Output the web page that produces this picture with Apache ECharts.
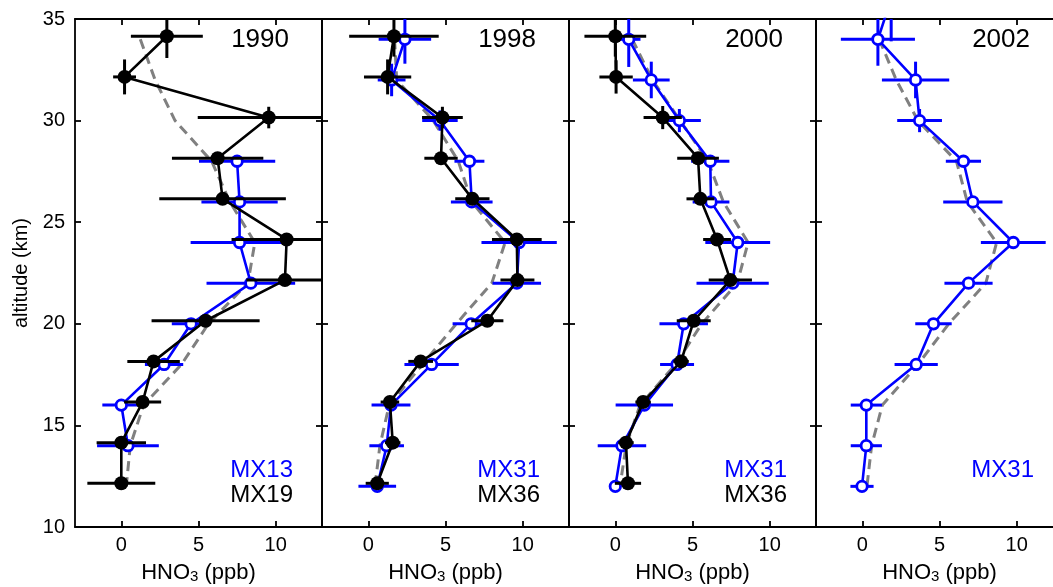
<!DOCTYPE html>
<html>
<head>
<meta charset="utf-8">
<script src="https://cdn.jsdelivr.net/npm/echarts@6/dist/echarts.min.js"></script>
<style>
  html, body { margin: 0; padding: 0; background: #fff; }
  #chart { width: 1053px; height: 587px; }
</style>
</head>
<body>
<div id="chart"></div>
<script>
// ---- axis ticks ----
const xTicks = [0, 5, 10];
const yTicks = [10, 15, 20, 25, 30, 35];

// ---- profile altitudes (km) ----
const altLevels = [34, 32, 30, 28, 26, 24, 22, 20, 18, 16, 14, 12];
const altShifted = [34.15, 32.15, 30.15, 28.15, 26.15, 24.15, 22.15, 20.15, 18.15, 16.15, 14.15, 12.15];
const alt1990MX13 = [28, 26, 24, 22, 20, 18, 16, 14];
const alt2002MX31 = [36, 34, 32, 30, 28, 26, 24, 22, 20, 18, 16, 14, 12];

// ---- 1990 ----
const hno3_1990_MX19 = [2.95, 0.21, 9.55, 6.24, 6.56, 10.71, 10.6, 5.46, 2.09, 1.38, 0.0, 0.0];
const xerr_1990_MX19 = [2.33, 0.74, 4.6, 2.96, 4.1, 3.57, 2.5, 3.5, 1.7, 1.2, 1.6, 2.2];
const zerr_1990_MX19 = [1.07, 0.86, 0.53, 0, 0, 0, 0, 0, 0, 0, 0, 0];
const hno3_1990_MX13 = [7.5, 7.66, 7.66, 8.39, 4.52, 2.77, 0.0, 0.43];
const xerr_1990_MX13 = [2.47, 2.47, 3.17, 2.87, 1.25, 1.24, 1.23, 2.0];
const zerr_1990_MX13 = [0, 0, 0, 0, 0, 0, 0, 0];
const clim_1990 = [1.23, 2.19, 3.48, 5.85, 7.03, 8.65, 8.2, 5.64, 3.9, 1.44, 0.58, 0.32];

// ---- 1998 ----
const hno3_1998_MX36 = [1.66, 1.25, 4.8, 4.71, 6.74, 9.62, 9.66, 7.71, 3.39, 1.4, 1.58, 0.58];
const xerr_1998_MX36 = [2.9, 1.53, 1.32, 1.08, 1.11, 1.61, 1.1, 1.04, 0.8, 0.6, 0.5, 0.75];
const zerr_1998_MX36 = [1.0, 0.86, 0.53, 0, 0, 0, 0, 0, 0, 0, 0, 0];
const hno3_1998_MX31 = [2.37, 1.51, 4.64, 6.55, 6.7, 9.77, 9.62, 6.66, 4.1, 1.47, 1.19, 0.58];
const xerr_1998_MX31 = [1.7, 0.9, 1.15, 0.97, 1.35, 2.44, 1.57, 1.2, 1.76, 1.26, 1.12, 1.22];
const zerr_1998_MX31 = [1.2, 0.8, 0.5, 0, 0, 0, 0, 0, 0, 0, 0, 0];
const clim_1998 = [1.7, 1.84, 4.21, 5.83, 6.7, 8.86, 8.0, 5.7, 3.5, 1.35, 0.75, 0.43];

// ---- 2000 ----
const hno3_2000_MX36 = [0.0, 0.05, 3.07, 5.36, 5.51, 6.59, 7.45, 5.08, 4.26, 1.8, 0.69, 0.82];
const xerr_2000_MX36 = [2.0, 1.08, 1.24, 1.35, 0.9, 0.9, 1.4, 1.1, 0.5, 0.5, 0.5, 0.85];
const zerr_2000_MX36 = [1.0, 0.82, 0.57, 0, 0, 0, 0, 0, 0, 0, 0, 0];
const hno3_2000_MX31 = [0.87, 2.33, 4.15, 6.15, 6.2, 7.93, 7.6, 4.43, 4.0, 1.88, 0.43, 0.0];
const xerr_2000_MX31 = [0.76, 1.19, 1.39, 1.24, 1.19, 2.1, 2.34, 1.57, 1.1, 1.86, 1.57, 0.3];
const zerr_2000_MX31 = [1.36, 0.9, 0.57, 0, 0, 0, 0, 0, 0, 0, 0, 0];
const clim_2000 = [1.1, 2.4, 4.2, 6.0, 7.0, 8.6, 7.9, 5.6, 3.9, 1.6, 0.7, 0.3];

// ---- 2002 ----
const hno3_2002_MX31 = [1.87, 1.01, 3.45, 3.71, 6.55, 7.16, 9.78, 6.88, 4.61, 3.49, 0.26, 0.26, -0.02];
const xerr_2002_MX31 = [2.0, 2.4, 2.18, 1.45, 1.14, 1.92, 2.1, 1.56, 1.18, 1.4, 1.01, 1.01, 0.75];
const zerr_2002_MX31 = [2.1, 1.3, 0.9, 0.57, 0, 0, 0, 0, 0, 0, 0, 0, 0];
const clim_2002 = [1.1, 2.2, 3.6, 6.1, 6.8, 8.7, 8.0, 5.6, 3.6, 1.3, 0.6, 0.3];

// ---- panel labels ----
const years = ['1990', '1998', '2000', '2002'];
const blueNames = ['MX13', 'MX31', 'MX31', 'MX31'];
const blackNames = ['MX19', 'MX36', 'MX36', null];

const FONT = '"Liberation Sans", Arial, Helvetica, sans-serif';
const BLUE = '#0000ff';
const BLACK = '#000000';
const GREY = '#808080';

const panelLeft = [75, 322, 569, 816];
const panelWidth = 247;
const panelTop = 19;
const panelHeight = 508;

const panels = [
  { clim: clim_1990,
    blue:  { x: hno3_1990_MX13, z: alt1990MX13, ex: xerr_1990_MX13, ez: zerr_1990_MX13 },
    black: { x: hno3_1990_MX19, z: altShifted, ex: xerr_1990_MX19, ez: zerr_1990_MX19 } },
  { clim: clim_1998,
    blue:  { x: hno3_1998_MX31, z: altLevels, ex: xerr_1998_MX31, ez: zerr_1998_MX31 },
    black: { x: hno3_1998_MX36, z: altShifted, ex: xerr_1998_MX36, ez: zerr_1998_MX36 } },
  { clim: clim_2000,
    blue:  { x: hno3_2000_MX31, z: altLevels, ex: xerr_2000_MX31, ez: zerr_2000_MX31 },
    black: { x: hno3_2000_MX36, z: altShifted, ex: xerr_2000_MX36, ez: zerr_2000_MX36 } },
  { clim: clim_2002,
    blue:  { x: hno3_2002_MX31, z: alt2002MX31, ex: xerr_2002_MX31, ez: zerr_2002_MX31 },
    black: null }
];

const axisLineStyle = { color: BLACK, width: 1.8 };

const grids = [];
const xAxes = [];
const yAxes = [];
const series = [];
const graphics = [];

panels.forEach((p, i) => {
  grids.push({
    left: panelLeft[i], top: panelTop, width: panelWidth, height: panelHeight,
    containLabel: false, outerBoundsMode: 'none'
  });

  // bottom and top x axes
  xAxes.push({
    type: 'value', gridIndex: i, min: -3, max: 13, position: 'bottom',
    axisLine: { show: true, onZero: false, lineStyle: axisLineStyle },
    axisTick: { show: true, inside: true, length: 6, customValues: xTicks, lineStyle: axisLineStyle },
    axisLabel: { show: true, customValues: xTicks, fontSize: 20, color: BLACK, fontFamily: FONT, margin: 8 },
    splitLine: { show: false },
    name: '{n|HNO}{s|3}{n| (ppb)}',
    nameLocation: 'middle', nameGap: 35, nameMoveOverlap: false,
    nameTextStyle: {
      color: BLACK, fontFamily: FONT,
      rich: {
        n: { fontSize: 22, fontFamily: FONT, color: BLACK, lineHeight: 22, verticalAlign: 'top' },
        s: { fontSize: 15, fontFamily: FONT, color: BLACK, lineHeight: 15, verticalAlign: 'bottom', padding: [21, 0, 0, 0] }
      }
    }
  });
  xAxes.push({
    type: 'value', gridIndex: i, min: -3, max: 13, position: 'top',
    axisLine: { show: true, onZero: false, lineStyle: axisLineStyle },
    axisTick: { show: true, inside: true, length: 6, customValues: xTicks, lineStyle: axisLineStyle },
    axisLabel: { show: false },
    splitLine: { show: false }
  });

  // left and right altitude axes
  yAxes.push({
    type: 'value', gridIndex: i, min: 10, max: 35, interval: 5, position: 'left',
    axisLine: { show: true, onZero: false, lineStyle: axisLineStyle },
    axisTick: { show: true, inside: true, length: 6, lineStyle: axisLineStyle },
    axisLabel: { show: i === 0, fontSize: 20, color: BLACK, fontFamily: FONT, margin: 10,
                 customValues: yTicks },
    splitLine: { show: false },
    name: i === 0 ? 'altitude (km)' : '',
    nameLocation: 'middle', nameGap: 44,
    nameTextStyle: { fontSize: 20, color: BLACK, fontFamily: FONT }
  });
  yAxes.push({
    type: 'value', gridIndex: i, min: 10, max: 35, interval: 5, position: 'right',
    axisLine: { show: true, onZero: false, lineStyle: axisLineStyle },
    axisTick: { show: true, inside: true, length: 6, lineStyle: axisLineStyle },
    axisLabel: { show: false },
    splitLine: { show: false }
  });

  const xi = 2 * i, yi = 2 * i;

  // reference profile (dashed grey)
  series.push({
    type: 'line', xAxisIndex: xi, yAxisIndex: yi, z: 1,
    data: p.clim.map((v, k) => [v, altLevels[k]]),
    symbol: 'none', silent: true, animation: false,
    lineStyle: { color: GREY, width: 3, type: [10, 6] }
  });

  const addProfile = (prof, color, filled, z) => {
    series.push({
      type: 'custom', xAxisIndex: xi, yAxisIndex: yi, z: z, clip: true,
      silent: true, animation: false,
      data: prof.x.map((v, k) => [v, prof.z[k], prof.ex[k], prof.ez[k]]),
      encode: { x: 0, y: 1 },
      renderItem: (params, api) => {
        const x = api.value(0), y = api.value(1), ex = api.value(2), ez = api.value(3);
        const a = api.coord([x - ex, y]);
        const b = api.coord([x + ex, y]);
        const children = [{
          type: 'line', shape: { x1: a[0], y1: a[1], x2: b[0], y2: b[1] },
          style: { stroke: color, lineWidth: 3 }
        }];
        if (ez > 0) {
          const c = api.coord([x, y + ez]);
          const d = api.coord([x, y - ez]);
          children.push({
            type: 'line', shape: { x1: c[0], y1: c[1], x2: d[0], y2: d[1] },
            style: { stroke: color, lineWidth: 3 }
          });
        }
        return { type: 'group', children };
      }
    });
    series.push({
      type: 'line', xAxisIndex: xi, yAxisIndex: yi, z: z + 1,
      data: prof.x.map((v, k) => [v, prof.z[k]]),
      symbol: 'circle', symbolSize: filled ? 14 : 10.5, showSymbol: true,
      silent: true, animation: false, clip: true,
      lineStyle: { color: color, width: 2.6 },
      itemStyle: filled ? { color: color } : { color: '#ffffff', borderColor: color, borderWidth: 2.8 }
    });
  };

  addProfile(p.blue, BLUE, false, 3);
  if (p.black) addProfile(p.black, BLACK, true, 5);

  // year label
  graphics.push({
    type: 'text', x: panelLeft[i] + panelWidth - 33, y: 40, z: 10,
    style: { text: years[i], fontSize: 26, fontFamily: FONT, fill: BLACK, align: 'right', verticalAlign: 'middle' }
  });
  // instrument names
  graphics.push({
    type: 'text', x: panelLeft[i] + panelWidth - 29, y: 470, z: 10,
    style: { text: blueNames[i], fontSize: 24, fontFamily: FONT, fill: BLUE, align: 'right', verticalAlign: 'middle' }
  });
  if (blackNames[i]) {
    graphics.push({
      type: 'text', x: panelLeft[i] + panelWidth - 29, y: 495, z: 10,
      style: { text: blackNames[i], fontSize: 24, fontFamily: FONT, fill: BLACK, align: 'right', verticalAlign: 'middle' }
    });
  }
});

const chart = echarts.init(document.getElementById('chart'), null, { renderer: 'canvas' });
chart.setOption({
  backgroundColor: '#ffffff',
  animation: false,
  grid: grids,
  xAxis: xAxes,
  yAxis: yAxes,
  series: series,
  graphic: graphics
});
</script>
</body>
</html>
